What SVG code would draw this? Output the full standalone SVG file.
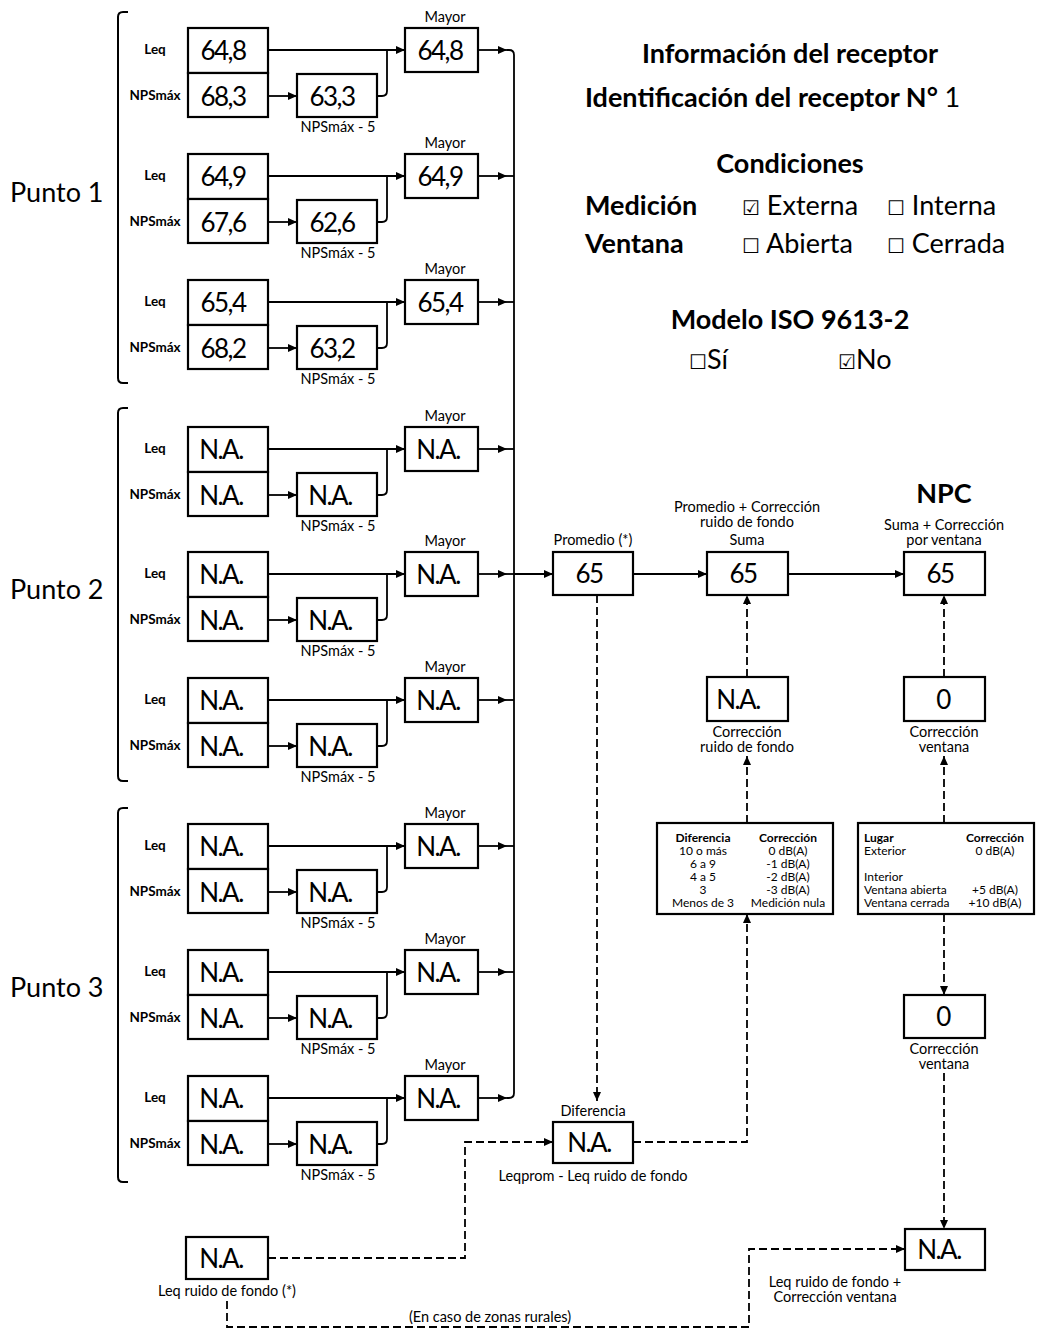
<svg xmlns="http://www.w3.org/2000/svg" width="1039" height="1331" viewBox="0 0 1039 1331">
<style>
text{font-family:Lato,"Liberation Sans",sans-serif;fill:#000}
.box{fill:#fff;stroke:#000;stroke-width:2.2}
.val{font-size:26px;text-anchor:middle;letter-spacing:-1.5px}
.lab{font-size:14.5px;text-anchor:middle}
.side{font-size:13.5px;font-weight:bold;text-anchor:middle}
.big{font-size:27px;font-weight:bold}
.reg{font-size:27px}
.tb{font-size:12px}
.cb{font-family:"DejaVu Sans",sans-serif;font-size:20px}
.ln{fill:none;stroke:#000;stroke-width:1.8}
.ar{marker-end:url(#ah)}
.da{stroke-dasharray:8 4}
.br{fill:none;stroke:#000;stroke-width:2}
</style>
<defs>
<marker id="ah" markerUnits="userSpaceOnUse" markerWidth="9" markerHeight="8" refX="9" refY="4" orient="auto">
<path d="M0,0 L9,4 L0,8 z" fill="#000"/>
</marker>
<g id="blk">
<rect class="box" x="188" y="-22" width="80" height="45"/>
<rect class="box" x="188" y="23" width="80" height="44"/>
<rect class="box" x="297" y="24" width="80" height="43"/>
<rect class="box" x="405" y="-22" width="73" height="44"/>
<text class="side" x="155" y="4">Leq</text>
<text class="side" x="155" y="50">NPSmáx</text>
<text class="lab" x="445" y="-28">Mayor</text>
<text class="lab" x="338" y="82">NPSmáx - 5</text>
</g>
</defs>
<rect width="1039" height="1331" fill="#fff"/>

<!-- header -->
<g id="header">
<text class="big" x="790" y="63" text-anchor="middle">Información del receptor</text>
<text class="big" x="585" y="107">Identificación del receptor N° <tspan font-weight="normal">1</tspan></text>
<text class="big" x="790" y="173" text-anchor="middle">Condiciones</text>
<text class="big" x="585" y="215">Medición</text>
<text class="big" x="585" y="253">Ventana</text>
<text class="reg" x="742" y="215"><tspan class="cb">☑</tspan> Externa</text>
<text class="reg" x="887" y="215"><tspan class="cb">☐</tspan> Interna</text>
<text class="reg" x="742" y="253"><tspan class="cb">☐</tspan> Abierta</text>
<text class="reg" x="887" y="253"><tspan class="cb">☐</tspan> Cerrada</text>
<text class="big" x="790" y="329" text-anchor="middle">Modelo ISO 9613-2</text>
<text class="reg" x="689" y="369"><tspan class="cb">☐</tspan>Sí</text>
<text class="reg" x="838" y="369"><tspan class="cb">☑</tspan>No</text>
</g>

<!-- puntos -->
<g id="punto1">
<path class="br" d="M128 12 H123 Q118 12 118 17 V378 Q118 383 123 383 H128"/>
<text class="reg" x="10" y="202">Punto 1</text>
</g>
<g id="punto2">
<path class="br" d="M128 408 H123 Q118 408 118 413 V776 Q118 781 123 781 H128"/>
<text class="reg" x="10" y="599">Punto 2</text>
</g>
<g id="punto3">
<path class="br" d="M128 808 H123 Q118 808 118 813 V1177 Q118 1182 123 1182 H128"/>
<text class="reg" x="10" y="997">Punto 3</text>
</g>

<g id="p1b1" transform="translate(0,50)"><use href="#blk"/>
<text class="val" x="223" y="10">64,8</text><text class="val" x="223" y="56">68,3</text><text class="val" x="332" y="56">63,3</text><text class="val" x="440" y="10">64,8</text></g>
<g id="p1b2" transform="translate(0,176)"><use href="#blk"/>
<text class="val" x="223" y="10">64,9</text><text class="val" x="223" y="56">67,6</text><text class="val" x="332" y="56">62,6</text><text class="val" x="440" y="10">64,9</text></g>
<g id="p1b3" transform="translate(0,302)"><use href="#blk"/>
<text class="val" x="223" y="10">65,4</text><text class="val" x="223" y="56">68,2</text><text class="val" x="332" y="56">63,2</text><text class="val" x="440" y="10">65,4</text></g>
<g id="p2b1" transform="translate(0,449)"><use href="#blk"/>
<text class="val" x="221" y="10">N.A.</text><text class="val" x="221" y="56">N.A.</text><text class="val" x="330" y="56">N.A.</text><text class="val" x="438" y="10">N.A.</text></g>
<g id="p2b2" transform="translate(0,574)"><use href="#blk"/>
<text class="val" x="221" y="10">N.A.</text><text class="val" x="221" y="56">N.A.</text><text class="val" x="330" y="56">N.A.</text><text class="val" x="438" y="10">N.A.</text></g>
<g id="p2b3" transform="translate(0,700)"><use href="#blk"/>
<text class="val" x="221" y="10">N.A.</text><text class="val" x="221" y="56">N.A.</text><text class="val" x="330" y="56">N.A.</text><text class="val" x="438" y="10">N.A.</text></g>
<g id="p3b1" transform="translate(0,846)"><use href="#blk"/>
<text class="val" x="221" y="10">N.A.</text><text class="val" x="221" y="56">N.A.</text><text class="val" x="330" y="56">N.A.</text><text class="val" x="438" y="10">N.A.</text></g>
<g id="p3b2" transform="translate(0,972)"><use href="#blk"/>
<text class="val" x="221" y="10">N.A.</text><text class="val" x="221" y="56">N.A.</text><text class="val" x="330" y="56">N.A.</text><text class="val" x="438" y="10">N.A.</text></g>
<g id="p3b3" transform="translate(0,1098)"><use href="#blk"/>
<text class="val" x="221" y="10">N.A.</text><text class="val" x="221" y="56">N.A.</text><text class="val" x="330" y="56">N.A.</text><text class="val" x="438" y="10">N.A.</text></g>

<!-- right chain -->
<g id="promedio">
<rect class="box" x="553" y="552" width="80" height="43"/>
<text class="lab" x="593" y="545">Promedio (*)</text>
<text class="val" x="589" y="583">65</text>
</g>
<g id="suma">
<rect class="box" x="707" y="552" width="81" height="43"/>
<text class="lab" x="747" y="512">Promedio + Corrección</text>
<text class="lab" x="747" y="527">ruido de fondo</text>
<text class="lab" x="747" y="545">Suma</text>
<text class="val" x="743" y="583">65</text>
</g>
<g id="npc">
<rect class="box" x="904" y="552" width="81" height="43"/>
<text class="big" x="944" y="503" text-anchor="middle">NPC</text>
<text class="lab" x="944" y="530">Suma + Corrección</text>
<text class="lab" x="944" y="545">por ventana</text>
<text class="val" x="940" y="583">65</text>
</g>
<g id="corr-ruido">
<rect class="box" x="707" y="677" width="81" height="44"/>
<text class="val" x="738" y="709">N.A.</text>
<text class="lab" x="747" y="737">Corrección</text>
<text class="lab" x="747" y="752">ruido de fondo</text>
</g>
<g id="corr-ventana">
<rect class="box" x="904" y="677" width="81" height="44"/>
<text class="val" x="943" y="709">0</text>
<text class="lab" x="944" y="737">Corrección</text>
<text class="lab" x="944" y="752">ventana</text>
</g>
<g id="tabla-ruido">
<rect class="box" x="657" y="823" width="176" height="91"/>
<g class="tb" text-anchor="middle">
<text x="703" y="842" font-weight="bold">Diferencia</text>
<text x="703" y="855">10 o más</text>
<text x="703" y="868">6 a 9</text>
<text x="703" y="881">4 a 5</text>
<text x="703" y="894">3</text>
<text x="703" y="907">Menos de 3</text>
<text x="788" y="842" font-weight="bold">Corrección</text>
<text x="788" y="855">0 dB(A)</text>
<text x="788" y="868">-1 dB(A)</text>
<text x="788" y="881">-2 dB(A)</text>
<text x="788" y="894">-3 dB(A)</text>
<text x="788" y="907">Medición nula</text>
</g>
</g>
<g id="tabla-ventana">
<rect class="box" x="858" y="823" width="176" height="91"/>
<g class="tb">
<text x="864" y="842" font-weight="bold">Lugar</text>
<text x="864" y="855">Exterior</text>
<text x="864" y="881">Interior</text>
<text x="864" y="894">Ventana abierta</text>
<text x="864" y="907">Ventana cerrada</text>
<text x="995" y="842" text-anchor="middle" font-weight="bold">Corrección</text>
<text x="995" y="855" text-anchor="middle">0 dB(A)</text>
<text x="995" y="894" text-anchor="middle">+5 dB(A)</text>
<text x="995" y="907" text-anchor="middle">+10 dB(A)</text>
</g>
</g>
<g id="corr-ventana2">
<rect class="box" x="904" y="995" width="81" height="43"/>
<text class="val" x="943" y="1026">0</text>
<text class="lab" x="944" y="1054">Corrección</text>
<text class="lab" x="944" y="1069">ventana</text>
</g>
<g id="diferencia">
<rect class="box" x="553" y="1122" width="80" height="41"/>
<text class="lab" x="593" y="1116">Diferencia</text>
<text class="val" x="589" y="1152">N.A.</text>
<text class="lab" x="593" y="1181">Leqprom - Leq ruido de fondo</text>
</g>
<g id="leq-fondo">
<rect class="box" x="186" y="1237" width="82" height="42"/>
<text class="val" x="221" y="1268">N.A.</text>
<text class="lab" x="227" y="1296">Leq ruido de fondo (*)</text>
</g>
<g id="leq-fondo-corr">
<rect class="box" x="905" y="1229" width="80" height="41"/>
<text class="val" x="939" y="1259">N.A.</text>
<text class="lab" x="835" y="1287">Leq ruido de fondo +</text>
<text class="lab" x="835" y="1302">Corrección ventana</text>
</g>
<text class="lab" x="490" y="1322">(En caso de zonas rurales)</text>

<!-- connectors -->
<g id="connectors">
<g id="blockconn">
<g transform="translate(0,50)"><path class="ln ar" d="M268 0 H405"/><path class="ln ar" d="M268 46 H297"/><path class="ln" d="M377 46 H382 Q387 46 387 41 V0"/><path class="ln ar" d="M478 0 H507"/></g>
<g transform="translate(0,176)"><path class="ln ar" d="M268 0 H405"/><path class="ln ar" d="M268 46 H297"/><path class="ln" d="M377 46 H382 Q387 46 387 41 V0"/><path class="ln ar" d="M478 0 H507"/><path class="ln" d="M507 0 H514"/></g>
<g transform="translate(0,302)"><path class="ln ar" d="M268 0 H405"/><path class="ln ar" d="M268 46 H297"/><path class="ln" d="M377 46 H382 Q387 46 387 41 V0"/><path class="ln ar" d="M478 0 H507"/><path class="ln" d="M507 0 H514"/></g>
<g transform="translate(0,449)"><path class="ln ar" d="M268 0 H405"/><path class="ln ar" d="M268 46 H297"/><path class="ln" d="M377 46 H382 Q387 46 387 41 V0"/><path class="ln ar" d="M478 0 H507"/><path class="ln" d="M507 0 H514"/></g>
<g transform="translate(0,574)"><path class="ln ar" d="M268 0 H405"/><path class="ln ar" d="M268 46 H297"/><path class="ln" d="M377 46 H382 Q387 46 387 41 V0"/><path class="ln ar" d="M478 0 H507"/><path class="ln" d="M507 0 H514"/></g>
<g transform="translate(0,700)"><path class="ln ar" d="M268 0 H405"/><path class="ln ar" d="M268 46 H297"/><path class="ln" d="M377 46 H382 Q387 46 387 41 V0"/><path class="ln ar" d="M478 0 H507"/><path class="ln" d="M507 0 H514"/></g>
<g transform="translate(0,846)"><path class="ln ar" d="M268 0 H405"/><path class="ln ar" d="M268 46 H297"/><path class="ln" d="M377 46 H382 Q387 46 387 41 V0"/><path class="ln ar" d="M478 0 H507"/><path class="ln" d="M507 0 H514"/></g>
<g transform="translate(0,972)"><path class="ln ar" d="M268 0 H405"/><path class="ln ar" d="M268 46 H297"/><path class="ln" d="M377 46 H382 Q387 46 387 41 V0"/><path class="ln ar" d="M478 0 H507"/><path class="ln" d="M507 0 H514"/></g>
<g transform="translate(0,1098)"><path class="ln ar" d="M268 0 H405"/><path class="ln ar" d="M268 46 H297"/><path class="ln" d="M377 46 H382 Q387 46 387 41 V0"/><path class="ln ar" d="M478 0 H507"/></g>
</g>
<path class="ln" d="M507 50 H509 Q514 50 514 55 V1093 Q514 1098 509 1098 H507"/>
<path class="ln ar" d="M514 574 H553"/>
<path class="ln ar" d="M633 574 H707"/>
<path class="ln ar" d="M788 574 H904"/>
<path class="ln da ar" d="M747 677 V595"/>
<path class="ln da ar" d="M944 677 V595"/>
<path class="ln da ar" d="M747 823 V756"/>
<path class="ln da ar" d="M944 823 V756"/>
<path class="ln da ar" d="M597 595 V1101"/>
<path class="ln da ar" d="M633 1142 H747 V914"/>
<path class="ln da ar" d="M268 1258 H465 V1142 H553"/>
<path class="ln da ar" d="M227 1301 V1327 H749 V1249 H905"/>
<path class="ln da ar" d="M944 914 V995"/>
<path class="ln da ar" d="M944 1073 V1229"/>
</g>
</svg>
